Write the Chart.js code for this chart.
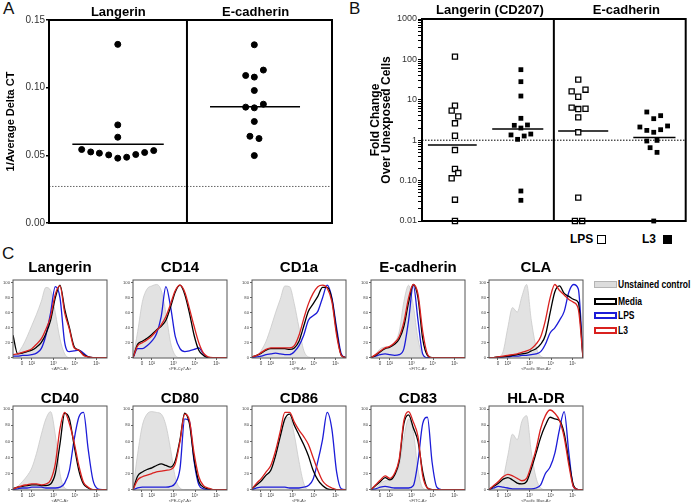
<!DOCTYPE html>
<html>
<head>
<meta charset="utf-8">
<script src="https://cdn.jsdelivr.net/npm/chart.js@4.4.1/dist/chart.umd.min.js"></script>
<style>
  body { margin: 0; background: #fff; }
  #fig { position: relative; width: 691px; height: 503px; overflow: hidden;
         font-family: "Liberation Sans", Arial, Helvetica, sans-serif; }
  #fig canvas { position: absolute; }
  .letter { position: absolute; font-size: 17px; line-height: 17px; color: #111; }
  .lg { position: absolute; font-weight: bold; color: #000; white-space: nowrap; }
  .sq { position: absolute; box-sizing: border-box; }
  .cl { position: absolute; font-size: 10px; line-height: 12px; font-weight: bold;
        transform: scaleX(0.85); transform-origin: 0 50%; white-space: nowrap; color: #000; }
</style>
</head>
<body>
<div id="fig">
  <div class="letter" style="left:3px;top:0px;">A</div>
  <div class="letter" style="left:349px;top:0px;">B</div>
  <div class="letter" style="left:2px;top:245px;">C</div>

  <!-- legend under panel B -->
  <div class="lg" style="left:570px;top:233px;font-size:12px;line-height:13px;">LPS</div>
  <div class="sq" style="left:597px;top:235px;width:9px;height:9px;border:1.5px solid #000;background:#fff;"></div>
  <div class="lg" style="left:642px;top:233px;font-size:12px;line-height:13px;">L3</div>
  <div class="sq" style="left:663px;top:235px;width:9px;height:9px;background:#000;"></div>

  <!-- legend of panel C -->
  <div class="sq" style="left:594px;top:281px;width:23px;height:7px;background:#dcdcdc;border:1px solid #b4b4b4;"></div>
  <div class="cl" style="left:618px;top:279px;">Unstained control</div>
  <div class="sq" style="left:594px;top:298px;width:23px;height:7px;border:2px solid #000;"></div>
  <div class="cl" style="left:618px;top:296px;">Media</div>
  <div class="sq" style="left:594px;top:312px;width:23px;height:7px;border:2px solid #1c1cd8;"></div>
  <div class="cl" style="left:618px;top:310px;">LPS</div>
  <div class="sq" style="left:594px;top:327px;width:23px;height:7px;border:2px solid #d9211f;"></div>
  <div class="cl" style="left:618px;top:325px;">L3</div>
</div>

<script>
// ---------- Panel A: 1/Average Delta CT ----------
const aGroups = ['Langerin', 'E-cadherin'];
const aTitlePos = [0.49, 1.46];
const aYTicks = [0, 0.05, 0.10, 0.15];
const aDivider = 0.975;
const langerinX = [0.486, 0.486, 0.486, 0.231, 0.295, 0.356, 0.422, 0.486, 0.549, 0.613, 0.676, 0.740];
const langerinY = [0.132, 0.0725, 0.0634, 0.0543, 0.0525, 0.0516, 0.0503, 0.0479, 0.0486, 0.0506, 0.0521, 0.0535];
const ecadX = [1.451, 1.390, 1.515, 1.451, 1.451, 1.390, 1.451, 1.515, 1.451, 1.420, 1.484, 1.451];
const ecadY = [0.1317, 0.109, 0.113, 0.1078, 0.0979, 0.0856, 0.0851, 0.0878, 0.075, 0.0641, 0.0624, 0.0498];
const langerinMean = 0.0582, langerinMeanSpan = [0.165, 0.811];
const ecadMean = 0.0859, ecadMeanSpan = [1.138, 1.774];
const aThreshold = 0.027;

// ---------- Panel B: fold change (log) ----------
const bGroups = ['Langerin (CD207)', 'E-cadherin'];
const bTitlePos = [1.03, 3.1];
const bDivider = 2;
const bMajorLabels = ['0.01', '0.10', '1', '10', '100', '1000'];
const lpsLangX = [0.5, 0.5, 0.45, 0.55, 0.5, 0.5, 0.5, 0.5, 0.55, 0.45, 0.5, 0.5];
const lpsLangY = [117, 7.16, 5.38, 3.9, 2.62, 1.29, 0.57, 0.194, 0.154, 0.114, 0.0337, 0.01];
const l3LangX = [1.5, 1.5, 1.5, 1.5, 1.4, 1.6, 1.5, 1.35, 1.55, 1.65, 1.45, 1.5, 1.5];
const l3LangY = [55.7, 28.1, 12.4, 3.48, 2.33, 2.38, 2.0, 1.35, 1.27, 1.42, 1.05, 0.0553, 0.0325];
const lpsEcadX = [2.37, 2.27, 2.48, 2.37, 2.27, 2.37, 2.48, 2.37, 2.37, 2.37, 2.32, 2.43];
const lpsEcadY = [31.5, 16.2, 17.8, 11.9, 6.4, 5.9, 6.0, 3.68, 1.57, 0.0379, 0.01, 0.01];
const l3EcadX = [3.41, 3.62, 3.515, 3.305, 3.725, 3.41, 3.62, 3.515, 3.41, 3.565, 3.46, 3.565, 3.515];
const l3EcadY = [4.99, 4.05, 3.41, 2.12, 2.25, 1.75, 1.82, 1.57, 0.955, 0.99, 0.653, 0.50, 0.01];
const bMedians = [0.76, 1.89, 1.69, 1.16];
const bMedianSpans = [[0.09, 0.83], [1.065, 1.84], [2.065, 2.825], [3.205, 3.845]];
const bBaseline = 1;

// ---------- Panel C: flow histograms (% of max) ----------
const facsX = [0, 5, 10, 15, 20, 25, 30, 35, 40, 45, 50, 55, 60, 65, 70, 75, 80, 85, 90, 95, 100];
const facsTickPos = [9.5, 20, 43, 66, 89];
const facsTickLabels = ['0', '10²', '10³', '10⁴', '10⁵'];
const facsYTicks = [0, 20, 40, 60, 80, 100];

const langerinUnst  = [1, 6, 15, 28, 43, 58, 75, 94, 90, 60, 25, 5, 0, 0, 0, 0, 0, 0, 0, 0, 0];
const langerinMedia = [30, 5, 6, 8, 10, 14, 20, 32, 50, 80, 97, 65, 40, 15, 10, 4, 1, 0, 0, 0, 0];
const langerinLps   = [2, 2, 3, 3, 4, 6, 12, 30, 60, 95, 80, 20, 8, 9, 10, 6, 1, 0, 0, 0, 0];
const langerinL3    = [4, 5, 7, 9, 12, 18, 25, 38, 55, 85, 96, 60, 38, 13, 10, 3, 1, 0, 0, 0, 0];

const cd14Unst  = [0, 35, 75, 92, 96, 98, 90, 60, 20, 3, 0, 0, 0, 0, 0, 0, 0, 0, 0, 0, 0];
const cd14Media = [0, 18, 22, 26, 31, 37, 42, 50, 68, 88, 97, 85, 60, 30, 10, 3, 0, 0, 0, 0, 0];
const cd14Lps   = [0, 12, 12, 16, 22, 32, 55, 95, 68, 28, 12, 8, 9, 11, 13, 5, 0, 0, 0, 0, 0];
const cd14L3    = [0, 16, 20, 24, 29, 36, 44, 55, 72, 90, 97, 88, 66, 42, 20, 6, 1, 0, 0, 0, 0];

const cd1aUnst  = [0, 2, 10, 22, 40, 60, 78, 96, 95, 72, 40, 10, 1, 0, 0, 0, 0, 0, 0, 0, 0];
const cd1aMedia = [1, 3, 6, 10, 12, 12, 12, 12, 11, 13, 22, 42, 62, 72, 82, 94, 94, 78, 35, 3, 0];
const cd1aLps   = [0, 1, 2, 4, 5, 6, 5, 4, 4, 8, 16, 30, 50, 56, 62, 80, 97, 80, 40, 5, 0];
const cd1aL3    = [1, 3, 7, 11, 13, 13, 13, 13, 13, 16, 30, 52, 72, 86, 95, 97, 93, 75, 30, 3, 0];

const ecadUnst  = [0, 5, 12, 14, 14, 20, 35, 75, 97, 70, 25, 3, 0, 0, 0, 0, 0, 0, 0, 0, 0];
const ecadMedia = [0, 3, 8, 12, 14, 18, 25, 42, 74, 98, 80, 25, 3, 0, 0, 0, 0, 0, 0, 0, 0];
const ecadLps   = [0, 2, 4, 5, 4, 3, 4, 12, 50, 97, 50, 5, 0, 0, 0, 0, 0, 0, 0, 0, 0];
const ecadL3    = [0, 4, 9, 13, 15, 20, 28, 48, 80, 98, 85, 35, 5, 0, 0, 0, 0, 0, 0, 0, 0];

const claUnst  = [0, 0, 1, 8, 40, 67, 61, 82, 98, 50, 15, 2, 0, 0, 0, 0, 0, 0, 0, 0, 0];
const claMedia = [0, 0, 1, 1, 2, 3, 4, 5, 6, 9, 12, 18, 30, 60, 88, 96, 86, 82, 78, 74, 0];
const claLps   = [0, 0, 0, 1, 1, 2, 2, 3, 3, 4, 5, 8, 18, 33, 40, 50, 62, 88, 98, 92, 0];
const claL3    = [0, 0, 1, 2, 3, 4, 5, 7, 9, 12, 18, 28, 50, 80, 98, 90, 84, 78, 74, 65, 0];

const cd40Unst  = [1, 4, 10, 17, 27, 45, 68, 88, 97, 68, 20, 2, 0, 0, 0, 0, 0, 0, 0, 0, 0];
const cd40Media = [1, 3, 4, 5, 6, 6, 5, 5, 7, 20, 57, 95, 88, 55, 24, 7, 2, 0, 0, 0, 0];
const cd40Lps   = [0, 1, 2, 2, 3, 3, 3, 2, 2, 2, 3, 8, 24, 62, 90, 96, 50, 12, 1, 0, 0];
const cd40L3    = [1, 3, 5, 6, 7, 7, 6, 7, 12, 32, 76, 96, 82, 59, 30, 9, 3, 0, 0, 0, 0];

const cd80Unst  = [0, 45, 80, 94, 97, 96, 94, 80, 50, 15, 2, 0, 0, 0, 0, 0, 0, 0, 0, 0, 0];
const cd80Media = [0, 17, 22, 25, 27, 30, 32, 30, 28, 36, 62, 95, 82, 38, 10, 3, 1, 0, 0, 0, 0];
const cd80Lps   = [0, 2, 3, 3, 3, 3, 3, 3, 4, 8, 26, 88, 85, 35, 6, 1, 0, 0, 0, 0, 0];
const cd80L3    = [0, 12, 16, 18, 20, 22, 23, 24, 25, 32, 60, 94, 86, 45, 16, 5, 2, 0, 0, 0, 0];

const cd86Unst  = [1, 5, 11, 18, 25, 42, 64, 86, 90, 68, 35, 8, 0, 0, 0, 0, 0, 0, 0, 0, 0];
const cd86Media = [1, 6, 11, 18, 24, 42, 66, 88, 94, 80, 68, 56, 42, 24, 12, 5, 1, 0, 0, 0, 0];
const cd86Lps   = [0, 2, 3, 3, 3, 3, 3, 3, 2, 2, 2, 3, 5, 13, 35, 62, 96, 75, 22, 1, 0];
const cd86L3    = [1, 8, 14, 22, 30, 48, 72, 96, 96, 84, 74, 66, 56, 40, 24, 11, 5, 2, 0, 0, 0];

const cd83Unst  = [0, 2, 8, 11, 13, 18, 30, 65, 88, 72, 25, 2, 0, 0, 0, 0, 0, 0, 0, 0, 0];
const cd83Media = [0, 5, 10, 15, 12, 18, 35, 82, 93, 77, 60, 22, 2, 0, 0, 0, 0, 0, 0, 0, 0];
const cd83Lps   = [0, 1, 3, 4, 3, 2, 2, 2, 2, 5, 35, 82, 90, 34, 3, 0, 0, 0, 0, 0, 0];
const cd83L3    = [0, 6, 12, 17, 14, 20, 38, 86, 97, 84, 66, 17, 2, 0, 0, 0, 0, 0, 0, 0, 0];

const hladrUnst  = [0, 1, 6, 14, 42, 69, 62, 85, 92, 47, 15, 2, 0, 0, 0, 0, 0, 0, 0, 0, 0];
const hladrMedia = [0, 4, 8, 13, 15, 12, 8, 7, 10, 26, 45, 65, 80, 90, 88, 86, 70, 35, 5, 0, 0];
const hladrLps   = [0, 2, 4, 3, 2, 1, 1, 1, 1, 1, 2, 6, 20, 28, 45, 75, 97, 45, 3, 0, 0];
const hladrL3    = [0, 5, 10, 16, 19, 17, 14, 11, 14, 30, 50, 76, 92, 99, 95, 86, 65, 30, 3, 0, 0];

const histPanels = [
  { title: 'Langerin',   xTitle: '<APC-A>',          row: 0, col: 0, unst: langerinUnst, media: langerinMedia, lps: langerinLps, l3: langerinL3 },
  { title: 'CD14',       xTitle: '<PE-Cy7-A>',       row: 0, col: 1, unst: cd14Unst,  media: cd14Media,  lps: cd14Lps,  l3: cd14L3 },
  { title: 'CD1a',       xTitle: '<PE-A>',           row: 0, col: 2, unst: cd1aUnst,  media: cd1aMedia,  lps: cd1aLps,  l3: cd1aL3 },
  { title: 'E-cadherin', xTitle: '<FITC-A>',         row: 0, col: 3, unst: ecadUnst,  media: ecadMedia,  lps: ecadLps,  l3: ecadL3 },
  { title: 'CLA',        xTitle: '<Pacific Blue-A>', row: 0, col: 4, unst: claUnst,   media: claMedia,   lps: claLps,   l3: claL3 },
  { title: 'CD40',       xTitle: '<APC-A>',          row: 1, col: 0, unst: cd40Unst,  media: cd40Media,  lps: cd40Lps,  l3: cd40L3 },
  { title: 'CD80',       xTitle: '<PE-Cy7-A>',       row: 1, col: 1, unst: cd80Unst,  media: cd80Media,  lps: cd80Lps,  l3: cd80L3 },
  { title: 'CD86',       xTitle: '<PE-A>',           row: 1, col: 2, unst: cd86Unst,  media: cd86Media,  lps: cd86Lps,  l3: cd86L3 },
  { title: 'CD83',       xTitle: '<FITC-A>',         row: 1, col: 3, unst: cd83Unst,  media: cd83Media,  lps: cd83Lps,  l3: cd83L3 },
  { title: 'HLA-DR',     xTitle: '<Pacific Blue-A>', row: 1, col: 4, unst: hladrUnst, media: hladrMedia, lps: hladrLps, l3: hladrL3 },
];

// layout of the histogram grid (pixels)
const boxLefts = [13, 133, 252, 371, 489];
const boxWidth = 94;
const rowTops = [280, 406];
const rowHeights = [78, 84];
const titlePadBottom = [5, 0];

Chart.defaults.font.family = '"Liberation Sans", Arial, Helvetica, sans-serif';
Chart.defaults.animation = false;
Chart.defaults.events = [];
Chart.defaults.plugins.legend.display = false;
Chart.defaults.plugins.tooltip.enabled = false;

const pts = (xs, ys) => xs.map((x, i) => ({ x: x, y: ys[i] }));

// box around the plot area, plus the group divider
const framePlugin = {
  id: 'frame',
  afterDatasetsDraw(chart, args, opts) {
    const { ctx, chartArea: a } = chart;
    ctx.save();
    ctx.strokeStyle = opts.color || '#000';
    ctx.lineWidth = opts.width || 1;
    ctx.strokeRect(a.left, a.top, a.right - a.left, a.bottom - a.top);
    if (opts.divider !== undefined && opts.divider !== null) {
      const x = chart.scales.x.getPixelForValue(opts.divider);
      ctx.beginPath();
      ctx.moveTo(x, a.top);
      ctx.lineTo(x, a.bottom);
      ctx.stroke();
    }
    ctx.restore();
  }
};

function addCanvas(left, top, w, h) {
  const c = document.createElement('canvas');
  c.width = w; c.height = h;
  c.style.left = left + 'px'; c.style.top = top + 'px';
  c.style.width = w + 'px'; c.style.height = h + 'px';
  document.getElementById('fig').appendChild(c);
  return c;
}

function segment(x0, x1, y, color, width, dash) {
  return {
    type: 'line', data: [{ x: x0, y: y }, { x: x1, y: y }], showLine: true,
    borderColor: color, borderWidth: width, borderDash: dash || [], pointRadius: 0, clip: false
  };
}

// ---------- draw panel A ----------
new Chart(addCanvas(0, 0, 340, 250), {
  type: 'scatter',
  data: {
    datasets: [
      { data: pts(langerinX, langerinY), pointRadius: 3, backgroundColor: '#000', borderColor: '#000', clip: false },
      { data: pts(ecadX, ecadY), pointRadius: 3, backgroundColor: '#000', borderColor: '#000', clip: false },
      segment(langerinMeanSpan[0], langerinMeanSpan[1], langerinMean, '#000', 1.5),
      segment(ecadMeanSpan[0], ecadMeanSpan[1], ecadMean, '#000', 1.5),
      segment(0, 2, aThreshold, '#666', 1, [1.5, 1.5])
    ]
  },
  options: {
    responsive: false, devicePixelRatio: 1,
    layout: { padding: { left: 0, top: 0, right: 8, bottom: 27 } },
    scales: {
      x: { type: 'linear', min: 0, max: 2, display: false },
      x2: {
        type: 'linear', position: 'top', min: 0, max: 2,
        afterFit: s => { s.height = 20; },
        afterBuildTicks: s => { s.ticks = aTitlePos.map(v => ({ value: v })); },
        ticks: { autoSkip: false, maxRotation: 0, padding: 0, color: '#000',
                 font: { size: 13, weight: 'bold' }, callback: (v, i) => aGroups[i] },
        grid: { display: false, drawTicks: false }, border: { display: false }
      },
      y: {
        min: 0, max: 0.15,
        afterFit: s => { s.width = 49; },
        afterBuildTicks: s => { s.ticks = aYTicks.map(v => ({ value: v })); },
        ticks: { autoSkip: false, padding: 1, color: '#333', font: { size: 10 },
                 callback: v => v.toFixed(2) },
        grid: { drawOnChartArea: false, tickLength: 3, color: '#000', lineWidth: 1.5 },
        border: { display: false },
        title: { display: true, text: '1/Average Delta CT', color: '#000',
                 font: { size: 11, weight: 'bold' }, padding: { top: 4, bottom: 0 } }
      }
    },
    plugins: { frame: { color: '#000', width: 2, divider: aDivider } }
  },
  plugins: [framePlugin]
});

// ---------- draw panel B ----------
const bTicks = [];
[0.01, 0.1, 1, 10, 100].forEach(dec => {
  for (let k = 1; k <= 9; k++) bTicks.push({ value: +(dec * k).toPrecision(3), major: k === 1 });
});
bTicks.push({ value: 1000, major: true });

const openSq = { pointStyle: 'rect', pointRadius: 3.6, pointBorderWidth: 1.3, backgroundColor: '#fff', borderColor: '#000', clip: false };
const fillSq = { pointStyle: 'rect', pointRadius: 3.4, pointBorderWidth: 0, backgroundColor: '#000', borderColor: '#000', clip: false };

new Chart(addCanvas(340, 0, 351, 250), {
  type: 'scatter',
  data: {
    datasets: [
      Object.assign({ label: 'LPS', data: pts(lpsLangX, lpsLangY) }, openSq),
      Object.assign({ label: 'L3', data: pts(l3LangX, l3LangY) }, fillSq),
      Object.assign({ label: 'LPS', data: pts(lpsEcadX, lpsEcadY) }, openSq),
      Object.assign({ label: 'L3', data: pts(l3EcadX, l3EcadY) }, fillSq),
      segment(bMedianSpans[0][0], bMedianSpans[0][1], bMedians[0], '#000', 1.5),
      segment(bMedianSpans[1][0], bMedianSpans[1][1], bMedians[1], '#000', 1.5),
      segment(bMedianSpans[2][0], bMedianSpans[2][1], bMedians[2], '#000', 1.5),
      segment(bMedianSpans[3][0], bMedianSpans[3][1], bMedians[3], '#000', 1.5),
      segment(0, 4, bBaseline, '#000', 1, [1.5, 1.5])
    ]
  },
  options: {
    responsive: false, devicePixelRatio: 1,
    layout: { padding: { left: 0, top: 0, right: 2, bottom: 29 } },
    scales: {
      x: { type: 'linear', min: 0, max: 4, display: false },
      x2: {
        type: 'linear', position: 'top', min: 0, max: 4,
        afterFit: s => { s.height = 19; },
        afterBuildTicks: s => { s.ticks = bTitlePos.map(v => ({ value: v })); },
        ticks: { autoSkip: false, maxRotation: 0, padding: 1, color: '#000',
                 font: { size: 13, weight: 'bold' }, callback: (v, i) => bGroups[i] },
        grid: { display: false, drawTicks: false }, border: { display: false }
      },
      y: {
        type: 'logarithmic', min: 0.01, max: 1000,
        afterFit: s => { s.width = 82; },
        afterBuildTicks: s => { s.ticks = bTicks.map(t => ({ value: t.value, major: t.major })); },
        ticks: {
          autoSkip: false, padding: 1, color: '#333', font: { size: 9 },
          callback: (v, i, ticks) => ticks[i].major ? bMajorLabels[Math.round(Math.log10(v)) + 2] : ''
        },
        grid: { drawOnChartArea: false, tickLength: 4, color: '#000', lineWidth: 1 },
        border: { display: false },
        title: { display: true, text: ['Fold Change', 'Over Unexposed Cells'], color: '#000',
                 font: { size: 12, weight: 'bold', lineHeight: 0.95 }, padding: { top: 30, bottom: 0 } }
      }
    },
    plugins: { frame: { color: '#000', width: 2, divider: bDivider } }
  },
  plugins: [framePlugin]
});

// ---------- draw panel C ----------
histPanels.forEach(p => {
  const yW = 12, rightPad = 3, xH = 13;
  const tH = 15 + titlePadBottom[p.row];
  const boxH = rowHeights[p.row];
  const left = boxLefts[p.col] - yW;
  const top = rowTops[p.row] - tH;
  const w = yW + boxWidth + rightPad;
  const h = tH + boxH + xH;
  const curve = (label, values, color, width, order) => ({
    label: label, data: pts(facsX, values), borderColor: color, borderWidth: width,
    pointRadius: 0, cubicInterpolationMode: 'monotone', fill: false, order: order
  });
  const unst = curve('Unstained control', p.unst, '#c9c9c9', 0.8, 4);
  unst.fill = 'origin';
  unst.backgroundColor = '#e2e2e2';

  new Chart(addCanvas(left, top, w, h), {
    type: 'line',
    data: {
      datasets: [
        unst,
        curve('Media', p.media, '#000', 1.3, 2),
        curve('LPS', p.lps, '#1c1cd8', 1.3, 3),
        curve('L3', p.l3, '#d9211f', 1.3, 1)
      ]
    },
    options: {
      responsive: false, devicePixelRatio: 1,
      layout: { padding: { left: 0, top: 0, right: rightPad, bottom: 0 } },
      scales: {
        x: {
          type: 'linear', min: 0, max: 100,
          afterFit: s => { s.height = xH; },
          afterBuildTicks: s => { s.ticks = facsTickPos.map(v => ({ value: v })); },
          ticks: { autoSkip: false, maxRotation: 0, padding: 1, color: '#444',
                   font: { size: 4.5 }, callback: (v, i) => facsTickLabels[i] },
          grid: { drawOnChartArea: false, tickLength: 2, color: '#666' },
          border: { display: false },
          title: { display: true, text: p.xTitle, color: '#444', font: { size: 4 }, padding: 0 }
        },
        y: {
          min: -0.5, max: 104,
          afterFit: s => { s.width = yW; },
          afterBuildTicks: s => { s.ticks = facsYTicks.map(v => ({ value: v })); },
          ticks: { autoSkip: false, padding: 1, color: '#444', font: { size: 4.2 } },
          grid: { drawOnChartArea: false, tickLength: 2, color: '#666' },
          border: { display: false }
        }
      },
      plugins: {
        title: { display: true, text: p.title, color: '#000', fullSize: false,
                 font: { size: 15, weight: 'bold', lineHeight: 1 },
                 padding: { top: 0, bottom: titlePadBottom[p.row] } },
        frame: { color: '#555', width: 1 }
      }
    },
    plugins: [framePlugin]
  });
});
</script>
</body>
</html>
